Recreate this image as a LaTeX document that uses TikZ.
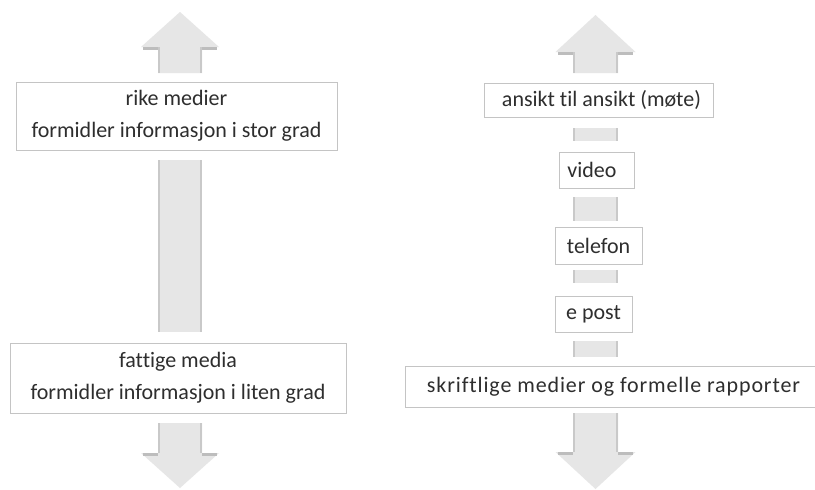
\documentclass[tikz,border=0pt]{standalone}
\usepackage{fontspec}
\setmainfont{Carlito}[Ligatures=NoCommon]
\newfontfamily\wideface{Carlito}[Ligatures=NoCommon,LetterSpace=4]
\definecolor{arrowfill}{HTML}{E6E6E6}
\definecolor{arrowedge}{HTML}{C9C9C9}
\definecolor{arrowshadow}{HTML}{BDBDBD}
\definecolor{boxline}{HTML}{C4C4C4}
\definecolor{txt}{HTML}{2E2E2E}
\tikzset{
  mbox/.style={draw=boxline, line width=0.9pt, fill=white, text=txt,
    font=\fontsize{22}{32}\selectfont, inner sep=0pt, align=center},
  shaftfill/.style={fill=arrowfill},
  shaftedge/.style={draw=arrowedge, line width=2pt},
  headshadow/.style={draw=arrowshadow, line width=3pt}
}
% shaft segment: #1 = centre x, #2 = top y, #3 = bottom y, #4 = half width
\newcommand\mshaft[4]{%
  \fill[shaftfill] (#1-#4,#2) rectangle (#1+#4,#3);
  \draw[shaftedge] (#1-#4+1,#2) -- (#1-#4+1,#3);
  \draw[shaftedge] (#1+#4-1,#2) -- (#1+#4-1,#3);
}
% head: #1 centre x, #2 tip y, #3 base y, #4 head half width, #5 shaft half width, #6 shaft end y
\newcommand\mhead[6]{%
  \fill[shaftfill] (#1,#2) -- (#1+#4,#3) -- (#1+#5,#3) -- (#1+#5,#6) -- (#1-#5,#6) -- (#1-#5,#3) -- (#1-#4,#3) -- cycle;
  \draw[shaftedge] (#1-#5+1,#3) -- (#1-#5+1,#6);
  \draw[shaftedge] (#1+#5-1,#3) -- (#1+#5-1,#6);
}
\begin{document}
\begin{tikzpicture}[x=1pt,y=-1pt]
\useasboundingbox (0,0) rectangle (815,490);
\fill[white] (0,0) rectangle (815,490);

% ---------- left arrow ----------
\mhead{180}{12}{47}{39}{22}{73}
\draw[headshadow] (143,48.5) -- (158,48.5);
\draw[headshadow] (202,48.5) -- (217,48.5);
\mshaft{180}{160}{332}{22}
\mhead{180}{488}{453}{39}{22}{423}
\draw[headshadow] (143,454) -- (158,454);
\draw[headshadow] (202,454) -- (217,454);

% ---------- right arrow ----------
\mhead{595.5}{15}{52}{40}{22.5}{73}
\draw[headshadow] (558,53.5) -- (573,53.5);
\draw[headshadow] (618,53.5) -- (633,53.5);
\mshaft{595.5}{128}{141}{22.5}
\mshaft{595.5}{197}{221}{22.5}
\mshaft{595.5}{270}{283}{22.5}
\mshaft{595.5}{341}{357}{22.5}
\mhead{595.5}{489}{452}{40}{22.5}{413}
\draw[headshadow] (558,453) -- (573,453);
\draw[headshadow] (618,453) -- (633,453);

% ---------- left boxes ----------
\node[mbox, minimum width=321pt, minimum height=68pt] (rike) at (176.5,116)
  {rike medier\\formidler informasjon i stor grad};
\node[mbox, minimum width=336pt, minimum height=70pt] (fattige) at (178,378)
  {fattige media\\formidler informasjon i liten grad};

% ---------- right boxes ----------
\node[mbox, minimum width=229pt, minimum height=34pt] (ansikt) at (598.5,100)
  {\hspace{6pt}ansikt til ansikt (møte)};
\node[mbox, minimum width=75pt, minimum height=36pt] (video) at (596.5,170)
  {video\hspace{9pt}};
\node[mbox, minimum width=87pt, minimum height=37pt] (telefon) at (598.5,245.5)
  {telefon};
\node[mbox, minimum width=77pt, minimum height=36pt] (epost) at (593.5,314)
  {e post};
\node[mbox, minimum width=417pt, minimum height=41pt,
      font=\wideface\fontsize{22}{32}\selectfont] (skrift) at (613.5,386.5)
  {skriftlige medier og formelle rapporter};
\end{tikzpicture}
\end{document}
